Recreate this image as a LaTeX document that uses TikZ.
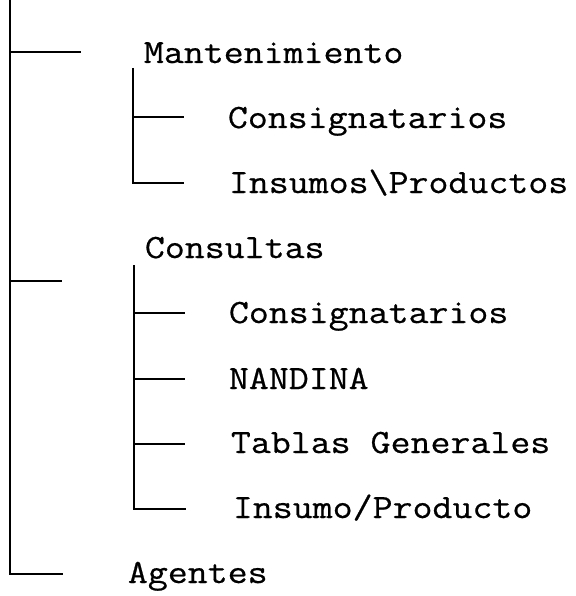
\documentclass[tikz,border=0pt]{standalone}
\usepackage{fontspec}
\usepackage{tikz}
\usetikzlibrary{positioning}
\newfontfamily\menufont[FakeStretch=1.14, FakeBold=0.6]{Latin Modern Mono}

\begin{document}
\begin{tikzpicture}[x=1pt, y=-1pt, line width=1.8pt,
    every node/.style={anchor=base west, inner sep=0pt, font=\menufont\fontsize{34}{38}\selectfont}]
    \useasboundingbox (0,0) rectangle (575,596);

    % Menu principale
    \coordinate (radice) at (10,0);
    \coordinate (r1) at (10,52);
    \coordinate (r2) at (10,281);
    \coordinate (r3) at (10,574);
    \coordinate (e1) at (81,52);
    \coordinate (e2) at (62,281);
    \coordinate (e3) at (63,574);
    \node (mant) at (143,63) {Mantenimiento};
    \node (cons) at (144,258) {Consultas};
    \node (agen) at (127,583) {Agentes};
    \draw (radice) |- (e3);
    \draw (r1) -- (e1);
    \draw (r2) -- (e2);

    % Mantenimiento
    \coordinate (m0) at (133,68);
    \coordinate (m1) at (133,117);
    \coordinate (m2) at (133,183);
    \coordinate (me1) at (184,117);
    \coordinate (me2) at (184,183);
    \node (mcons) at (227,128) {Consignatarios};
    \node (mins) at (228,193) {Insumos\textbackslash Productos};
    \draw (m0) |- (me2);
    \draw (m1) -- (me1);

    % Consultas
    \coordinate (c0) at (134,265);
    \coordinate (c1) at (134,313);
    \coordinate (c2) at (134,379);
    \coordinate (c3) at (134,444);
    \coordinate (c4) at (134,509);
    \coordinate (ce1) at (185,313);
    \coordinate (ce2) at (185,379);
    \coordinate (ce3) at (185,444);
    \coordinate (ce4) at (186,509);
    \node (ccons) at (228,323) {Consignatarios};
    \node (cnand) at (228,389) {NANDINA};
    \node (ctab) at (230,453) {Tablas Generales};
    \node (cins) at (232,518) {Insumo/Producto};
    \draw (c0) |- (ce4);
    \foreach \i in {1,2,3}
        \draw (c\i) -- (ce\i);
\end{tikzpicture}
\end{document}
